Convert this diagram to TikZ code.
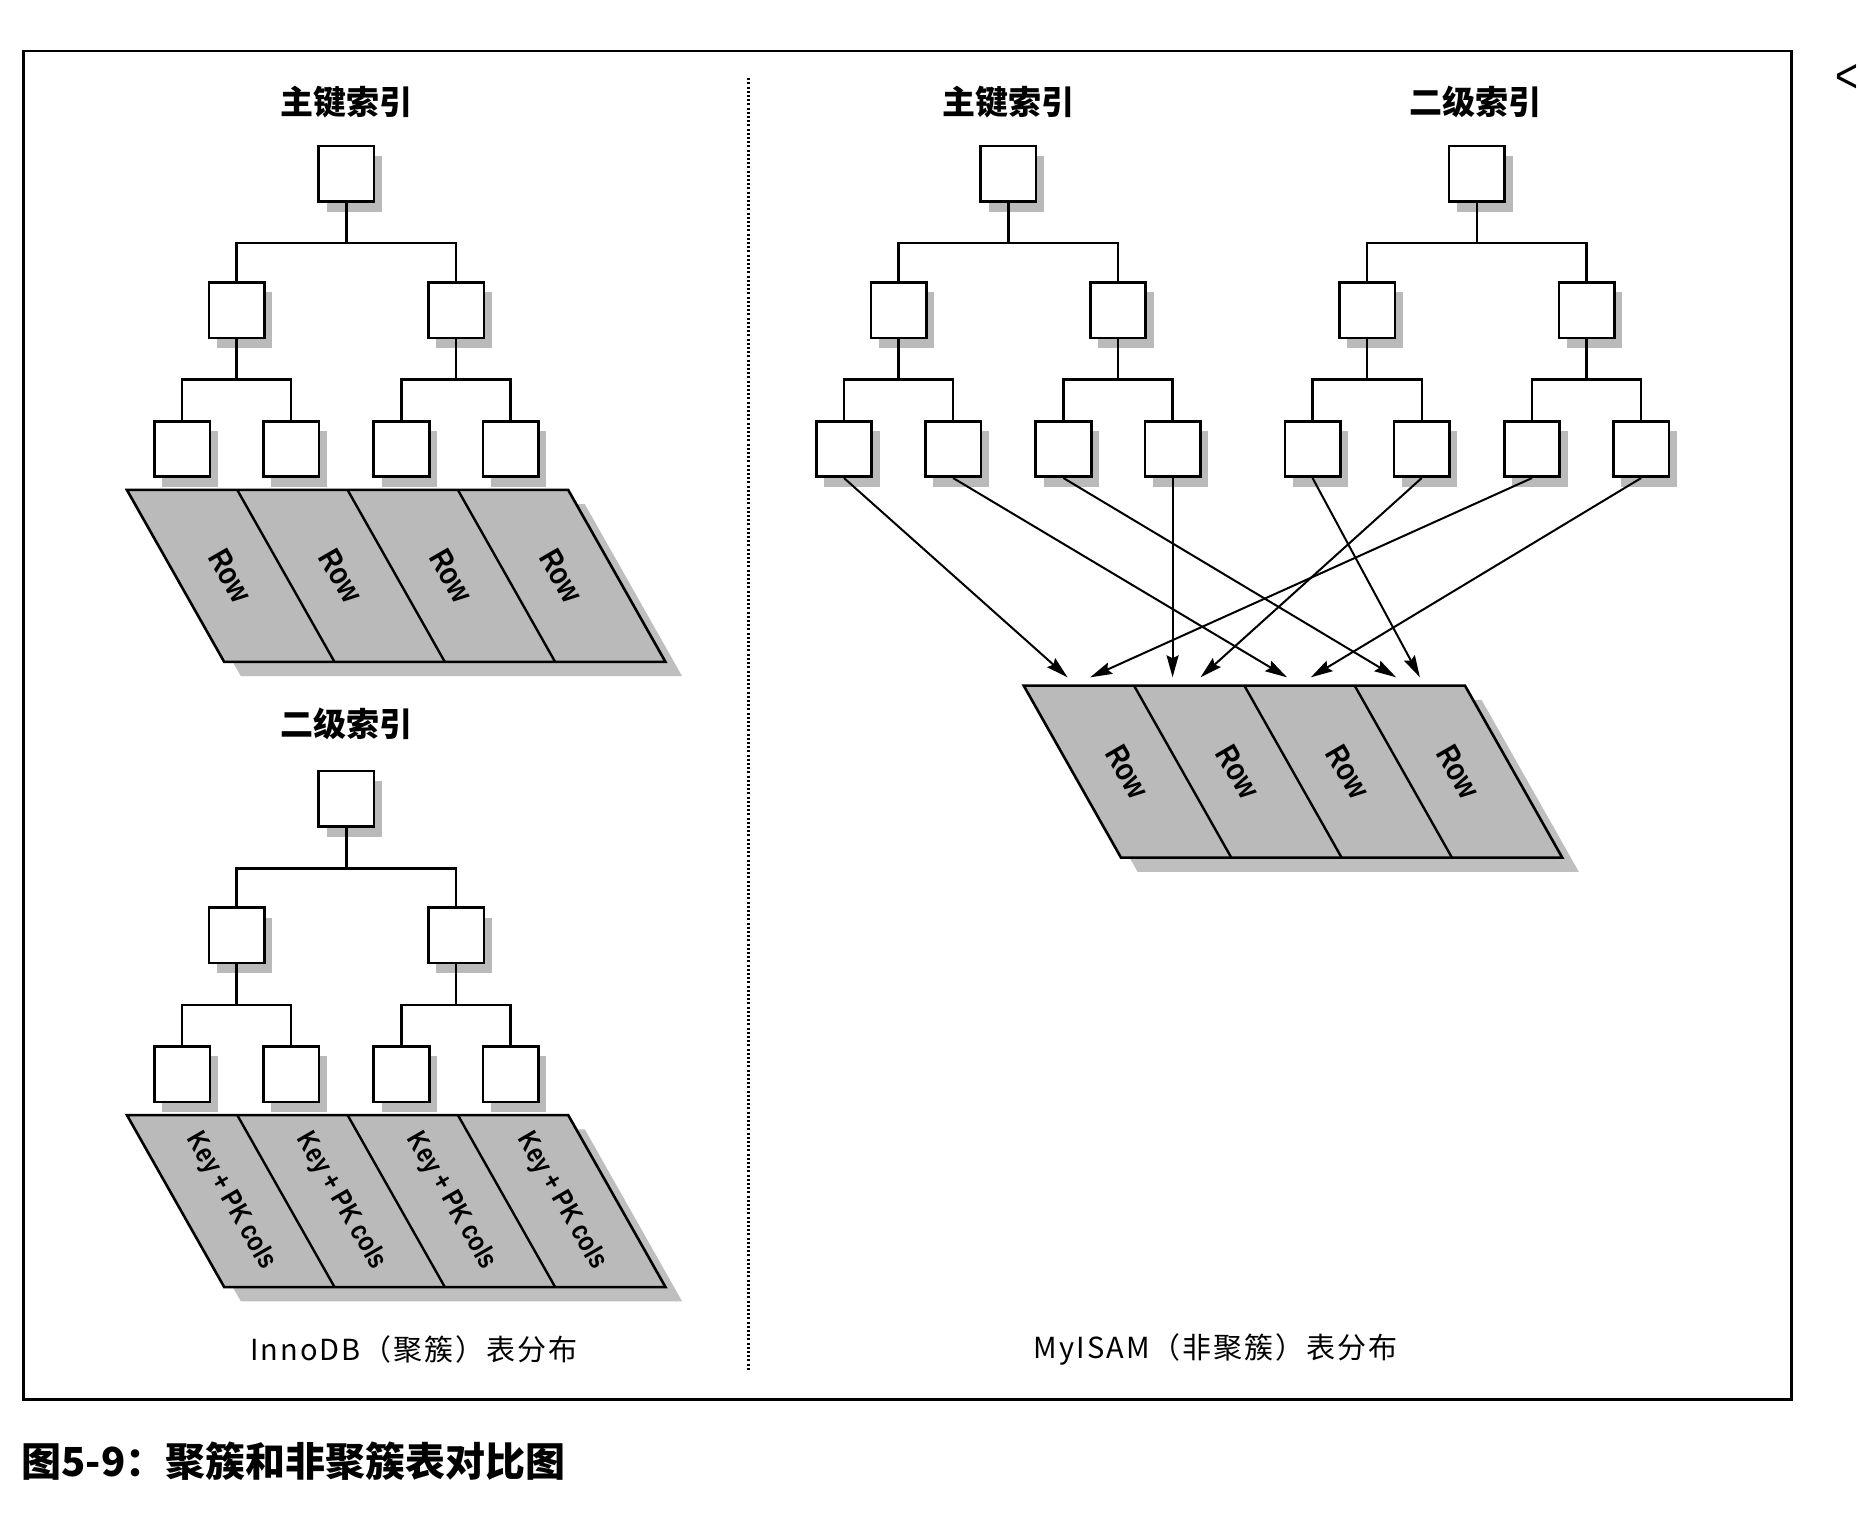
\documentclass[tikz,border=0pt]{standalone}
\usepackage{fontspec}
\setmainfont{Noto Sans CJK SC}
\newfontfamily\cjk{Noto Sans CJK SC}
\newfontfamily\cjkwide[LetterSpace=7]{Noto Sans CJK SC}
\newfontfamily\lbl[FakeStretch=0.82]{Liberation Sans}
\usetikzlibrary{arrows.meta,shadows}

% one B-tree: prefix, root x, root y
\newcommand{\idxtree}[3]{%
  \node[idxbox] (#1r)  at (#2,#3) {};
  \node[idxbox] (#1a)  at ({#2-92.5},{#3+115}) {};
  \node[idxbox] (#1b)  at ({#2+92.5},{#3+115}) {};
  \node[idxbox] (#1a1) at ({#2-138.5},{#3+232}) {};
  \node[idxbox] (#1a2) at ({#2-46.5},{#3+232}) {};
  \node[idxbox] (#1b1) at ({#2+46.5},{#3+232}) {};
  \node[idxbox] (#1b2) at ({#2+138.5},{#3+232}) {};
  \coordinate (#1j)  at (#2,{#3+58.5});
  \coordinate (#1ja) at ({#2-92.5},{#3+173.5});
  \coordinate (#1jb) at ({#2+92.5},{#3+173.5});
  \draw[link] (#1r.south) -- (#1j);
  \draw[link] (#1a.north) |- (#1j) -| (#1b.north);
  \draw[link] (#1a.south) -- (#1ja);
  \draw[link] (#1a1.north) |- (#1ja) -| (#1a2.north);
  \draw[link] (#1b.south) -- (#1jb);
  \draw[link] (#1b1.north) |- (#1jb) -| (#1b2.north);
}

% slanted strip of four records: prefix, top-left x, top-left y, label style, text
\newcommand{\recband}[5]{%
  \fill[bandshadow] ({#2+14},{#3+12}) -- ++(372,0) -- ++(82,145) -- ++(-372,0) -- cycle;
  \draw[band] (#2,#3) -- ++(372,0) -- ++(82,145) -- ++(-372,0) -- cycle;
  \foreach \k in {1,2,3} \draw[band line] ({#2+93*\k},#3) -- ++(82,145);
  \foreach \k in {0,1,2,3}
    \node[#4] (#1l\k) at ({#2+93*\k+87.5},{#3+72.5}) {#5};
}

\begin{document}
\begin{tikzpicture}[x=1.18622pt,y=-1.18622pt,
  idxbox/.style={draw, line width=2.6pt, fill=white, minimum width=55.5pt,
    minimum height=55.5pt, inner sep=0pt,
    drop shadow={shadow xshift=8pt, shadow yshift=-10pt, fill=black!27, opacity=1}},
  link/.style={line width=2.4pt},
  band/.style={draw, line width=2.6pt, fill=black!27, line join=miter},
  bandshadow/.style={fill=black!25},
  band line/.style={line width=2.4pt},
  rowlabel/.style={font=\lbl\bfseries\fontsize{32pt}{32pt}\selectfont, rotate=-60, inner sep=0pt},
  keylabel/.style={font=\lbl\bfseries\fontsize{28pt}{28pt}\selectfont, rotate=-60, inner sep=0pt},
  ptr/.style={line width=2pt, -{Stealth[length=22pt, width=12pt, inset=3pt]}},
  title/.style={font=\cjk\bfseries\fontsize{33pt}{33pt}\selectfont, inner sep=0pt},
  capt/.style={font=\cjkwide\fontsize{29pt}{29pt}\selectfont, inner sep=0pt},
  figcap/.style={font=\cjk\bfseries\fontsize{40pt}{40pt}\selectfont, inner sep=0pt}
]
\useasboundingbox (0,0) rectangle (1568,1288);

% outer frame and the dotted split between the two layouts
\draw[line width=2.6pt] (20,43) rectangle (1510,1180);
\draw[line width=2.2pt, dash pattern=on 2pt off 2.2pt] (631,66) -- (631,1155);

% ---- InnoDB (clustered) ----
\node[title] (lt1) at (292,86) {主键索引};
\recband{lp}{107}{413}{rowlabel}{Row}
\idxtree{lk}{292}{146.5}

\node[title] (lt2) at (292,610) {二级索引};
\recband{ls}{107}{940}{keylabel}{Key + PK cols}
\idxtree{lz}{292}{673.5}

\node[capt] (lc) at (349,1138) {InnoDB（聚簇）表分布};

% ---- MyISAM (non-clustered) ----
\node[title] (rt1) at (850,86) {主键索引};
\node[title] (rt2) at (1244,86) {二级索引};
\idxtree{p}{850}{146.5}
\idxtree{s}{1245}{146.5}
\recband{rr}{863}{578}{rowlabel}{Row}

% arrow tips just above the row strip
\coordinate (t1) at (900,571);
\coordinate (t2) at (919,571);
\coordinate (t3) at (988.5,571);
\coordinate (t4) at (1012,571);
\coordinate (t5) at (1085,571);
\coordinate (t6) at (1105,571);
\coordinate (t7) at (1177,571);
\coordinate (t8) at (1197,571);

\draw[ptr] (pa1.south) -- (t1);
\draw[ptr] (pa2.south) -- (t5);
\draw[ptr] (pb1.south) -- (t7);
\draw[ptr] (pb2.south) -- (t3);
\draw[ptr] (sa1.south) -- (t8);
\draw[ptr] (sa2.south) -- (t4);
\draw[ptr] (sb1.south) -- (t2);
\draw[ptr] (sb2.south) -- (t6);

\node[capt] (rc) at (1025,1138) {MyISAM（非聚簇）表分布};

% figure caption under the frame
\node[figcap, anchor=west] (fc) at (18,1232) {图5-9：聚簇和非聚簇表对比图};

% edge of the next page's mark
\node[font=\lbl\fontsize{48pt}{48pt}\selectfont, anchor=west, inner sep=0pt] (edge) at (1547,66) {<};
\end{tikzpicture}
\end{document}
